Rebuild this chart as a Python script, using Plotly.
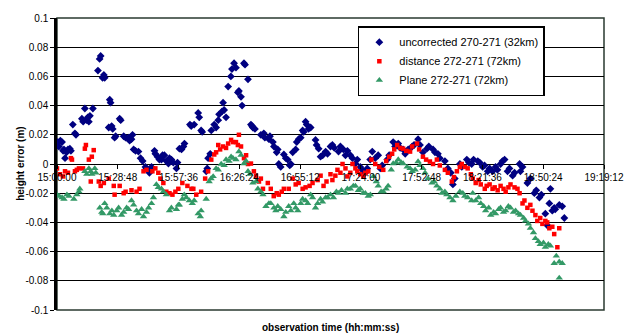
import plotly.graph_objects as go

# time in minutes after 15:00:00
tick_minutes = [0, 28.8, 57.6, 86.4, 115.2, 144.0, 172.8, 201.6, 230.4, 259.2]
tick_labels = ["15:00:00", "15:28:48", "15:57:36", "16:26:24", "16:55:12",
               "17:24:00", "17:52:48", "18:21:36", "18:50:24", "19:19:12"]
y_ticks = [0.1, 0.08, 0.06, 0.04, 0.02, 0, -0.02, -0.04, -0.06, -0.08, -0.1]
y_labels = ["0.1", "0.08", "0.06", "0.04", "0.02", "0", "-0.02", "-0.04", "-0.06", "-0.08", "-0.1"]

names = ["uncorrected 270-271 (32km)", "distance 272-271 (72km)", "Plane 272-271 (72km)"]

unc_t = [0.3, 0.9, 1.6, 2.4, 2.9, 3.3, 3.8, 4.5, 5.2, 6.1, 6.6, 7.5, 8.5, 9.0,
         11.8, 12.4, 13.2, 14.1, 14.6, 15.1, 15.6, 17.0, 19.4, 20.2, 20.7, 21.6, 22.2, 22.6,
         24.5, 25.0, 25.4, 25.9, 26.4, 27.3, 27.8, 29.7, 30.2, 31.6, 32.5, 33.9, 34.4, 35.3,
         35.8, 36.3, 37.2, 38.6, 39.6, 40.6, 41.9, 42.4, 43.8, 44.8, 46.2, 46.6, 47.6, 48.5,
         49.5, 50.0, 50.9, 51.8, 52.8, 53.3, 54.2, 55.1, 56.6, 57.1, 58.0, 59.0, 59.9, 60.4,
         63.0, 63.6, 65.0, 66.9, 67.4, 68.3, 68.8, 70.7, 71.2, 71.6, 72.6, 73.1, 74.5, 75.4,
         76.4, 76.8, 78.2, 78.7, 79.2, 80.1, 81.1, 82.4, 82.9, 83.9, 84.8, 85.7, 86.2, 87.2,
         87.7, 88.6, 89.1, 90.5, 91.9, 92.4, 92.8, 93.8,
         96.6, 98.0, 98.5, 100.4, 100.9, 102.3, 102.8, 104.1, 104.6, 105.1, 106.0, 107.5,
         108.4, 109.3, 110.3, 110.8, 111.7, 113.1, 113.6, 114.5, 115.5, 116.4, 116.9, 117.8,
         118.3, 119.2, 120.2, 122.5, 123.0, 124.0, 124.9, 125.9, 127.3, 128.2, 129.6,
         130.5, 131.4, 133.4, 134.3, 135.7, 136.7, 137.6, 139.0, 140.0, 141.4, 142.3, 143.7,
         144.6, 146.1, 147.0, 148.4, 149.4, 150.8, 152.2, 153.2, 154.1, 156.5, 157.4, 159.3,
         160.2, 161.7, 162.6, 164.0, 165.0, 166.4, 168.3, 169.2, 171.1, 172.0, 173.4, 175.3,
         176.2, 178.2, 179.1, 180.5, 181.4, 183.8, 185.2, 186.6, 187.6, 188.5, 190.9, 191.8,
         194.2, 195.2, 196.5, 197.4,
         199.4, 200.3, 201.7, 202.6, 204.1, 205.0, 206.4, 207.8, 208.7, 210.2, 211.1, 212.1,
         213.5, 214.4, 215.9, 216.8, 219.2, 219.6, 220.6, 222.9, 224.3, 226.2, 227.1, 228.6,
         229.5, 231.4, 232.3, 233.3, 233.8, 234.7, 235.6, 236.1, 238.0, 239.4, 240.4]
unc_v = [0.015, 0.012, 0.016, 0.015, 0.009, 0.010, 0.004, 0.008, 0.010, 0.0105, 0.009, 0.027, 0.021, 0.020,
         0.031, 0.029, 0.038, 0.030, 0.032, 0.029, 0.033, 0.038, 0.064, 0.072, 0.074, 0.059, 0.061, 0.059,
         0.025, 0.044, 0.042, 0.026, 0.024, 0.018, 0.019, 0.031, 0.030, 0.019, 0.018, 0.018, 0.016, 0.017,
         0.020, 0.010, 0.009, 0.0085, 0.004, 0.002, -0.002, -0.003, -0.006, -0.002, 0.009, 0.007, 0.005, 0.003,
         0.003, 0.006, 0.006, 0.002, 0.0003, 0.004, 0.003, 0.001, -0.003, 0.001, 0.0105, 0.010, 0.012, 0.014,
         0.027, 0.026, 0.027, 0.035, 0.032, 0.023, 0.022, -0.005, -0.003, 0.004, 0.007, 0.023, 0.027, 0.025,
         0.030, 0.034, 0.036, 0.042, 0.037, 0.032, 0.053, 0.060, 0.065, 0.069, 0.066, 0.049, 0.050, 0.046,
         0.040, 0.069, 0.068, 0.058, 0.027, 0.026, 0.025, 0.024,
         0.020, 0.021, 0.018, 0.017, 0.019, 0.015, 0.012, 0.008, 0.010, 0.000, -0.002, 0.0065,
         0.004, 0.003, -0.001, 0.000, 0.008, 0.010, 0.015, 0.017, 0.018, 0.023, 0.022, 0.029,
         0.027, 0.024, 0.025, 0.0165, 0.013, 0.0105, 0.005, 0.006, 0.0085, 0.007, 0.012,
         0.013, 0.011, 0.0085, 0.012, 0.010, 0.006, 0.009, 0.006, 0.004, 0.0003, 0.003, -0.002,
         -0.004, -0.006, -0.003, 0.003, 0.0085, 0.004, 0.006, -0.003, -0.001, 0.003, 0.006, 0.015,
         0.012, 0.014, 0.011, 0.010, 0.007, 0.010, 0.012, 0.013, 0.017, 0.013, 0.008, 0.0105,
         0.012, 0.010, 0.008, 0.007, 0.004, 0.002, -0.003, -0.006, -0.014, -0.010, 0.000, -0.002,
         0.003, 0.001, 0.000, 0.003,
         0.002, 0.001, -0.002, -0.001, -0.005, -0.003, -0.005, -0.002, -0.004, 0.000, 0.002, 0.003,
         -0.005, -0.003, -0.008, -0.006, 0.000, -0.005, -0.002, -0.013, -0.010, -0.020, -0.018, -0.023,
         -0.021, -0.034, -0.042, -0.027, -0.017, -0.032, -0.030, -0.031, -0.028, -0.029, -0.037]

dist_t = [0.0, 1.4, 2.8, 3.8, 5.2, 6.6, 7.1, 8.5, 9.4, 10.4, 12.3, 13.2, 13.7, 15.1, 16.5,
          17.4, 16.0, 19.8, 20.7, 22.2, 24.5, 26.9, 27.3, 29.7, 31.6, 32.5, 35.3, 37.7, 39.1,
          41.0, 42.4, 45.2, 46.6, 48.0, 49.0, 50.4, 51.8, 53.3, 54.7, 56.1, 57.5, 59.4, 61.8,
          63.7, 64.6, 66.0, 68.3, 70.2, 71.6, 73.1, 74.5, 75.4, 76.4, 77.3, 78.7, 80.1, 81.1,
          82.5, 83.4, 84.8, 85.7, 86.2, 87.2, 88.6, 89.6, 90.5, 91.9, 93.3, 94.3, 95.7, 96.6,
          97.6, 99.9, 101.3, 102.7, 104.1, 105.1, 106.5, 107.5, 109.8, 111.7, 113.1, 114.5,
          116.4, 117.8, 119.7, 121.1, 123.5, 124.9, 126.3, 127.7, 129.6,
          130.5, 131.9, 132.9, 134.3, 135.3, 136.7, 137.6, 139.0, 140.0, 141.4, 142.3, 143.7,
          145.2, 146.1, 147.5, 149.0, 150.8, 152.7, 154.6, 156.0, 157.4, 158.8, 159.8, 161.2,
          162.6, 164.0, 165.5, 167.3, 168.3, 170.6, 171.6, 173.4, 174.9, 176.7, 178.2, 180.0,
          181.4, 183.8, 185.2, 187.1, 188.1, 189.5, 190.9, 191.8, 193.3, 194.6,
          196.1, 197.0, 198.4, 199.8, 200.8, 202.7, 203.6, 205.0, 206.4, 207.4, 208.8, 210.2,
          211.6, 212.6, 213.9, 214.9, 216.8, 218.2, 219.2, 220.6, 221.5, 222.9, 224.3, 225.3,
          226.7, 227.6, 229.0, 230.0, 231.4, 232.3, 233.3, 234.7, 235.6, 237.1, 238.0]
dist_v = [-0.003, -0.007, -0.0085, -0.005, -0.006, 0.004, 0.003, -0.005, -0.004, -0.003, -0.003, 0.0105, 0.013, 0.003, 0.005,
          0.0095, -0.012, -0.012, -0.015, -0.013, -0.010, -0.015, -0.021, -0.015, -0.020, -0.019, -0.018, -0.019, -0.017,
          -0.005, -0.004, -0.005, -0.003, -0.006, -0.010, -0.013, -0.019, -0.020, -0.021, -0.019, -0.017, -0.013, -0.015,
          -0.017, -0.017, -0.021, -0.019, -0.010, -0.005, 0.003, 0.0065, 0.008, 0.013, 0.010, 0.012, 0.011, 0.014,
          0.0165, 0.015, 0.015, 0.013, 0.020, 0.012, 0.004, 0.006, 0.000, 0.0003, -0.005, -0.008, -0.012, -0.010,
          -0.017, -0.013, -0.017, -0.022, -0.020, -0.021, -0.019, -0.017, -0.017, -0.010, -0.014, -0.013,
          -0.017, -0.016, -0.015, -0.013, -0.011, -0.008, -0.015, -0.012, -0.007,
          -0.011, -0.008, -0.004, -0.006, 0.000, -0.003, -0.0085, -0.006, 0.000, -0.003, -0.005, -0.007,
          -0.0085, -0.006, -0.005, 0.003, 0.000, -0.002, -0.004, 0.002, 0.005, 0.007, 0.010, 0.013,
          0.011, 0.0105, 0.009, 0.0085, 0.012, 0.014, 0.010, 0.005, 0.003, 0.0017, 0.000, 0.003,
          -0.001, -0.004, -0.006, -0.012, -0.009, -0.005, -0.002, 0.000, -0.002, -0.003,
          -0.007, -0.010, -0.013, -0.011, -0.014, -0.017, -0.015, -0.014, -0.017, -0.016, -0.018, -0.015,
          -0.017, -0.019, -0.016, -0.014, -0.016, -0.017, -0.020, -0.027, -0.025, -0.030, -0.028, -0.032,
          -0.035, -0.039, -0.037, -0.041, -0.039, -0.040, -0.044, -0.043, -0.048, -0.057, -0.044]

plane_t = [0.0, 1.0, 2.4, 3.3, 4.7, 5.7, 8.0, 9.4, 10.4, 10.8, 13.2, 14.1, 15.1, 16.0, 16.5,
           17.9, 18.4, 20.3, 21.2, 21.7, 22.6, 23.6, 25.0, 26.0, 26.9, 28.3, 29.2, 30.6, 31.6,
           33.0, 33.9, 35.3, 36.3, 37.7, 38.6, 40.1, 41.0, 42.4, 43.4, 44.8, 45.7, 47.1, 48.0,
           49.5, 50.4, 51.8, 53.3, 54.2, 56.6, 57.5, 58.0, 59.4, 60.3, 61.3, 62.7, 64.1, 65.0,
           66.9, 67.9, 68.3, 70.7, 72.1, 73.0, 74.0, 75.4, 76.4, 77.8, 79.2, 80.1, 81.5, 82.5,
           83.4, 84.8, 86.2, 87.2, 88.6, 89.6, 90.5, 91.4, 92.8, 94.3, 95.2, 96.6, 97.6, 99.0,
           100.4, 101.3, 102.8, 103.7, 104.6, 106.0, 107.5, 108.4, 109.8, 110.8, 112.2, 113.1,
           114.1, 115.5, 116.4, 117.8, 118.8, 120.2, 121.1, 122.5, 123.5, 124.9, 125.8, 127.3,
           128.2, 129.6, 131.0, 132.4, 133.4, 134.8, 136.7, 137.6, 139.0, 140.4, 141.4, 142.8,
           143.7, 145.1, 146.1, 147.5, 148.5, 149.9, 151.3, 152.2, 153.6, 154.6, 156.0, 156.9,
           158.4, 159.3, 160.7, 161.7, 163.1, 164.0, 165.9, 167.3, 168.3, 169.7, 171.1, 172.0,
           173.4, 174.4, 175.8, 177.7, 178.7, 180.0, 181.4, 182.4, 183.8, 184.7, 186.2, 187.6,
           189.0, 190.9, 192.3, 193.2, 194.6, 196.5, 197.0, 198.4, 199.8, 200.8, 202.2, 203.1,
           204.6, 205.5, 206.9, 207.8, 209.3, 210.2, 211.6, 212.6, 213.9, 214.9, 216.3, 217.3,
           218.7, 219.6, 221.1, 222.0, 223.4, 224.3, 225.8, 226.7, 228.1, 229.0, 230.5, 231.4,
           232.8, 233.8, 235.6, 236.6, 238.0, 239.4, 238.0]
plane_v = [-0.021, -0.022, -0.023, -0.024, -0.021, -0.022, -0.024, -0.021, -0.019, -0.017, -0.005, -0.007, -0.003, -0.005, -0.007,
           -0.003, -0.006, -0.030, -0.033, -0.034, -0.027, -0.030, -0.034, -0.032, -0.035, -0.032, -0.030, -0.035, -0.033,
           -0.030, -0.031, -0.025, -0.028, -0.032, -0.034, -0.031, -0.036, -0.033, -0.030, -0.027, -0.023, -0.014, -0.016,
           -0.017, -0.019, -0.021, -0.032, -0.030, -0.031, -0.028, -0.028, -0.024, -0.021, -0.023, -0.025, -0.027, -0.025,
           -0.034, -0.036, -0.032, -0.024, -0.012, -0.010, -0.0085, -0.003, -0.004, 0.000, -0.001, 0.003, 0.002, 0.005,
           0.004, 0.003, 0.0085, 0.006, 0.0003, 0.002, -0.005, -0.007, -0.013, -0.012, -0.017, -0.019, -0.021, -0.029,
           -0.027, -0.027, -0.030, -0.032, -0.029, -0.031, -0.036, -0.033, -0.029, -0.032, -0.027, -0.030,
           -0.032, -0.027, -0.024, -0.025, -0.027, -0.021, -0.023, -0.030, -0.027, -0.024, -0.026, -0.023,
           -0.023, -0.021, -0.023, -0.019, -0.020, -0.018, -0.020, -0.017, -0.017, -0.015, -0.015, -0.018,
           -0.017, -0.020, -0.020, -0.022, -0.021, -0.0085, -0.012, -0.015, -0.019, -0.019, -0.017, -0.015,
           -0.004, 0.0003, 0.001, 0.003, 0.001, 0.0003, -0.002, -0.003, -0.005, -0.004, 0.0017, -0.001,
           -0.003, -0.006, -0.010, -0.013, -0.012, -0.015, -0.017, -0.020, -0.019, -0.021, -0.023, -0.025,
           -0.022, -0.019, -0.020, -0.022, -0.023, -0.025, -0.020, -0.025, -0.023, -0.027, -0.029, -0.032,
           -0.030, -0.035, -0.033, -0.034, -0.031, -0.030, -0.033, -0.032, -0.029, -0.030, -0.033, -0.032,
           -0.034, -0.035, -0.037, -0.039, -0.041, -0.044, -0.047, -0.051, -0.053, -0.055, -0.054, -0.057,
           -0.055, -0.056, -0.068, -0.063, -0.067, -0.068, -0.078]

fig = go.Figure()
fig.add_trace(go.Scatter(x=unc_t, y=unc_v, mode="markers", name=names[0],
                         marker=dict(symbol="diamond", size=6, color="#000080")))
fig.add_trace(go.Scatter(x=dist_t, y=dist_v, mode="markers", name=names[1],
                         marker=dict(symbol="square", size=4.5, color="#FF0000")))
fig.add_trace(go.Scatter(x=plane_t, y=plane_v, mode="markers", name=names[2],
                         marker=dict(symbol="triangle-up", size=6.5, color="#339966")))

fig.update_layout(
    width=636, height=336,
    margin=dict(l=57, r=29, t=15, b=26),
    paper_bgcolor="white", plot_bgcolor="white",
    font=dict(family="Liberation Sans, Arial, sans-serif", size=10, color="black"),
    showlegend=True,
    legend=dict(x=0.55, y=0.972, xanchor="left", yanchor="top",
                bgcolor="white", bordercolor="black", borderwidth=1.5,
                font=dict(size=11), tracegroupgap=0, itemwidth=30),
    xaxis=dict(range=[0, 259.2], tickvals=tick_minutes, ticktext=tick_labels,
               anchor="free", position=0.5, showgrid=False, zeroline=False,
               showline=False, ticks="outside", ticklen=4, tickcolor="black",
               tickfont=dict(size=10)),
    yaxis=dict(range=[-0.1, 0.1], tickvals=y_ticks, ticktext=y_labels,
               showgrid=True, gridcolor="black", gridwidth=1.3,
               zeroline=True, zerolinecolor="black", zerolinewidth=1.3,
               showline=True, linecolor="black", linewidth=2.5,
               ticks="outside", ticklen=4, tickcolor="black",
               tickfont=dict(size=10)),
    shapes=[dict(type="rect", xref="paper", yref="paper", x0=0, x1=1, y0=0, y1=1,
                 line=dict(color="#2a3a30", width=1.5), layer="below")],
    annotations=[
        dict(text="<b>observation time (hh:mm:ss)</b>", xref="paper", yref="paper",
             x=0.5, y=-0.035, xanchor="center", yanchor="top", showarrow=False,
             font=dict(size=10)),
        dict(text="<b>height error (m)</b>", xref="paper", yref="paper",
             x=-0.068, y=0.5, xanchor="center", yanchor="middle", textangle=-90,
             showarrow=False, font=dict(size=10)),
    ],
)

fig.write_html("out.html", config={"displayModeBar": False},
               post_script="document.body.style.margin='0';document.body.style.overflow='hidden';")
